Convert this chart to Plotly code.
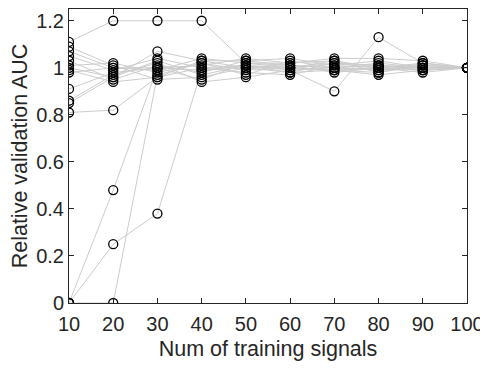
import plotly.graph_objects as go

num_signals = [10, 20, 30, 40, 50, 60, 70, 80, 90, 100]

s01 = [1.11, 1.20, 1.20, 1.20, 1.02, 1.01, 1.00, 1.01, 1.00, 1.00]
s02 = [0.00, 0.48, 1.00, 0.99, 1.01, 1.00, 0.99, 1.00, 1.01, 1.00]
s03 = [0.00, 0.25, 0.38, 0.99, 1.00, 1.01, 1.00, 0.99, 1.00, 1.00]
s04 = [0.00, 0.00, 0.97, 1.02, 0.99, 1.00, 1.02, 1.01, 0.99, 1.00]
s05 = [0.81, 0.82, 0.96, 1.00, 1.01, 0.99, 1.00, 1.02, 1.00, 1.00]
s06 = [0.85, 0.96, 1.07, 1.03, 1.03, 1.04, 1.01, 1.00, 1.02, 1.00]
s07 = [0.86, 0.97, 1.02, 0.94, 0.96, 0.99, 0.90, 1.13, 1.02, 1.00]
s08 = [0.91, 0.98, 1.00, 1.01, 1.04, 1.02, 1.04, 1.04, 1.03, 1.00]
s09 = [1.09, 1.01, 0.95, 0.96, 1.00, 0.98, 0.99, 0.97, 0.99, 1.00]
s10 = [1.07, 1.00, 0.99, 1.04, 1.02, 1.00, 1.03, 0.98, 1.01, 1.00]
s11 = [1.05, 0.99, 1.04, 1.00, 0.98, 0.97, 1.01, 1.03, 1.00, 1.00]
s12 = [1.03, 0.95, 1.01, 0.98, 1.03, 1.01, 0.98, 1.00, 0.98, 1.00]
s13 = [1.01, 1.02, 0.98, 1.02, 0.97, 1.03, 1.00, 0.99, 1.01, 1.00]
s14 = [1.00, 0.96, 1.03, 0.97, 1.01, 0.98, 1.02, 1.01, 1.00, 1.00]
s15 = [0.99, 0.94, 0.96, 1.03, 1.00, 1.00, 0.99, 0.98, 1.02, 1.00]
s16 = [0.98, 1.00, 1.00, 0.95, 1.02, 1.02, 1.03, 1.00, 0.99, 1.00]

series = [s01, s02, s03, s04, s05, s06, s07, s08, s09, s10, s11, s12, s13, s14, s15, s16]

x_ticks = [10, 20, 30, 40, 50, 60, 70, 80, 90, 100]
y_ticks = [0, 0.2, 0.4, 0.6, 0.8, 1.0, 1.2]
y_tick_labels = ["0", "0.2", "0.4", "0.6", "0.8", "1", "1.2"]

fig = go.Figure()
for s in series:
    fig.add_trace(go.Scatter(x=num_signals, y=s, mode="lines",
                             line=dict(color="#cccccc", width=1),
                             showlegend=False, hoverinfo="skip"))
for s in series:
    fig.add_trace(go.Scatter(x=num_signals, y=s, mode="markers",
                             marker=dict(symbol="circle-open", size=9,
                                         color="black", line=dict(width=1.3)),
                             showlegend=False))

FONT = "Liberation Sans, Arial"
axis_common = dict(showline=True, linecolor="#262626", linewidth=1, mirror="allticks",
                   ticks="inside", ticklen=5, tickcolor="#262626", showgrid=False,
                   zeroline=False, automargin=False,
                   tickfont=dict(family=FONT, size=20, color="#262626"))

# page body has an 8px margin, so the figure is sized to fit the 488x371 window
fig.update_layout(
    width=480, height=363,
    margin=dict(l=61, r=21, t=1, b=68),
    plot_bgcolor="white", paper_bgcolor="white",
    xaxis=dict(range=[10, 100], tickvals=x_ticks, ticklabelstandoff=3,
               title=dict(text="Num of training signals", standoff=6,
                          font=dict(family=FONT, size=21.5, color="#262626")),
               **axis_common),
    yaxis=dict(range=[0, 1.25], tickvals=y_ticks, ticktext=y_tick_labels,
               title=dict(text="Relative validation AUC", standoff=4,
                          font=dict(family=FONT, size=21.5, color="#262626")),
               **axis_common),
)

fig.write_html("out.html")
